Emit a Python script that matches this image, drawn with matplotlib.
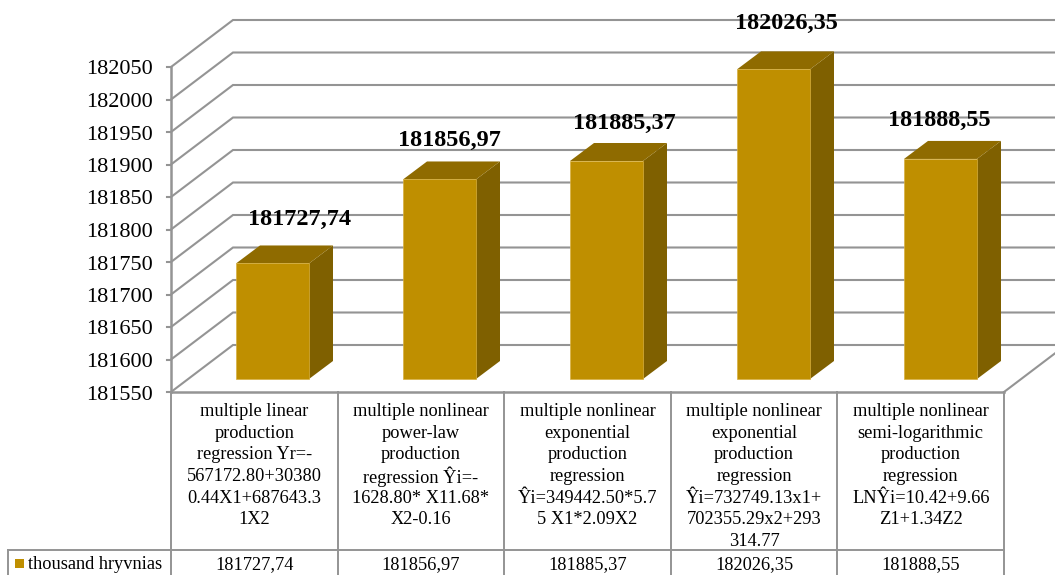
import numpy as np
import matplotlib
matplotlib.use('Agg')
import matplotlib.pyplot as plt
from matplotlib.patches import Polygon, Rectangle

plt.rcParams['font.family'] = ['Liberation Serif', 'DejaVu Serif']

categories = [
    ['multiple linear', 'production', 'regression Yr=-', '567172.80+30380', '0.44X1+687643.3', '1X2'],
    ['multiple nonlinear', 'power-law', 'production', 'regression Ŷi=-', '1628.80* X11.68*', 'X2-0.16'],
    ['multiple nonlinear', 'exponential', 'production', 'regression', 'Ŷi=349442.50*5.7', '5 X1*2.09X2'],
    ['multiple nonlinear', 'exponential', 'production', 'regression', 'Ŷi=732749.13x1+', '702355.29x2+293', '314.77'],
    ['multiple nonlinear', 'semi-logarithmic', 'production', 'regression', 'LNŶi=10.42+9.66', 'Z1+1.34Z2'],
]
values = [181727.74, 181856.97, 181885.37, 182026.35, 181888.55]
y_ticks = [181550, 181600, 181650, 181700, 181750, 181800, 181850, 181900, 181950, 182000, 182050]
series_name = 'thousand hryvnias'

W, H = 1055, 575
GOLD = '#BF8F00'
GOLD_TOP = '#8F6B00'
GOLD_SIDE = '#7F6000'
EDGE = '#D8B040'
GREY = '#949494'

# plot area in pixels
left, right, bottom, top = 171, 1004, 392, 67
px_x = 5 / (right - left)
px_y = 500 / (bottom - top)

# depth of the walls and of the bars, in data units
wall_dx, wall_dy = 62 * px_x, 47 * px_y
bar_dx, bar_dy = 24 * px_x, 18 * px_y
bar_x0, bar_w = 65 * px_x, 73 * px_x
bar_step = 167 * px_x
bar_lift = 13 * px_y

# label shift from the top of each bar's front face (pixels)
label_shift = [(27, -44), (10, -39), (18, -38), (13, -46), (-1, -38)]

fig = plt.figure(figsize=(W / 100, H / 100), dpi=100)
ax = fig.add_axes([left / W, 1 - bottom / H, (right - left) / W, (bottom - top) / H])
ax.set_xlim(0, 5)
ax.set_ylim(y_ticks[0], y_ticks[-1])
ax.axis('off')

# walls: gridlines run back from the left edge, then across
x_far = 6
for t in y_ticks:
    ax.plot([0, wall_dx, x_far], [t, t + wall_dy, t + wall_dy], color=GREY, lw=1.5,
            clip_on=False, solid_joinstyle='miter', zorder=1)
    ax.plot([-4 * px_x, 0], [t, t], color=GREY, lw=1.5, clip_on=False, zorder=1)
    ax.text(-18 * px_x, t - 3 * px_y, str(t), ha='right', va='center', fontsize=16, color='black', clip_on=False)
ax.plot([0, 0], [y_ticks[0], y_ticks[-1]], color=GREY, lw=1.8, clip_on=False, zorder=1)

# floor edge on the right
ax.plot([5, 5 + wall_dx], [y_ticks[0], y_ticks[0] + wall_dy], color=GREY, lw=1.5, clip_on=False, zorder=1)

for i, v in enumerate(values):
    x0 = i * bar_step + bar_x0
    x1 = x0 + bar_w
    y0 = y_ticks[0] + bar_lift
    y1 = v + bar_lift
    ax.add_patch(Polygon([(x1, y0), (x1 + bar_dx, y0 + bar_dy), (x1 + bar_dx, y1 + bar_dy), (x1, y1)],
                         facecolor=GOLD_SIDE, edgecolor='none', clip_on=False, zorder=3))
    ax.add_patch(Polygon([(x0, y1), (x1, y1), (x1 + bar_dx, y1 + bar_dy), (x0 + bar_dx, y1 + bar_dy)],
                         facecolor=GOLD_TOP, edgecolor='none', clip_on=False, zorder=3))
    ax.add_patch(Rectangle((x0, y0), bar_w, y1 - y0, facecolor=GOLD, edgecolor=EDGE, lw=0.5,
                           clip_on=False, zorder=4))
    dx, dy = label_shift[i]
    ax.annotate(f'{v:.2f}'.replace('.', ','), xy=((x0 + x1) / 2, y1), xytext=(dx * 0.72, -dy * 0.72),
                textcoords='offset points', ha='center', va='center', fontsize=17.5,
                fontweight='bold', color='black', annotation_clip=False, zorder=6)

# data table under the chart, drawn in pixel coordinates
tab = fig.add_axes([0, 0, 1, 1], facecolor='none')
tab.set_xlim(0, W)
tab.set_ylim(H, 0)
tab.axis('off')

row_y = 550
col_w = (right - left) / len(values)
for i in range(len(values) + 1):
    xc = left + i * col_w
    tab.plot([xc, xc], [bottom, H], color=GREY, lw=1.4)
tab.plot([left, right], [bottom, bottom], color=GREY, lw=1.8)
tab.plot([8, right], [row_y, row_y], color=GREY, lw=1.4)
tab.plot([8, 8], [row_y, H], color=GREY, lw=1.4)

line_h = 21.7
for i, lines in enumerate(categories):
    xc = left + (i + 0.5) * col_w
    for j, line in enumerate(lines):
        tab.text(xc, 411.5 + j * line_h, line, ha='center', va='center', fontsize=13.2, color='black')
    tab.text(xc, 565, f'{values[i]:.2f}'.replace('.', ','), ha='center', va='center', fontsize=13.2, color='black')

tab.add_patch(Rectangle((15, 559), 9, 9, facecolor=GOLD, edgecolor='none'))
tab.text(28, 564.5, series_name, ha='left', va='center', fontsize=13.2, color='black')

fig.savefig('out.png', dpi=100)
